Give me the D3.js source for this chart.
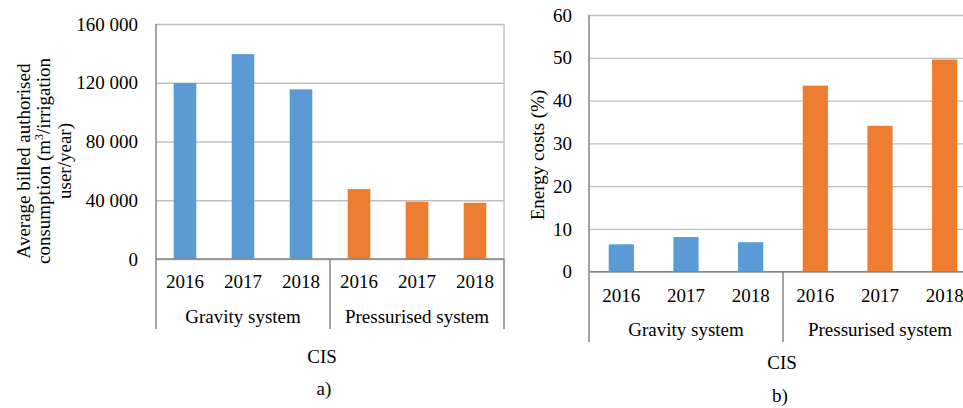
<!DOCTYPE html>
<html>
<head>
<meta charset="utf-8">
<script src="https://cdn.jsdelivr.net/npm/d3@7"></script>
</head>
<body style="margin:0;overflow:hidden;background:#fff">
<svg id="chart" width="963" height="408" style="display:block"></svg>
<script>
// ---------- data ----------
const years = ["2016", "2017", "2018", "2016", "2017", "2018"];
const groups = ["Gravity system", "Pressurised system"];
const groupOf = [0, 0, 0, 1, 1, 1];
const consumption = [119800, 139500, 115500, 47600, 39000, 38300];
const energy = [6.4, 8.1, 6.9, 43.5, 34.1, 49.6];
const consumptionTicks = [0, 40000, 80000, 120000, 160000];
const energyTicks = [0, 10, 20, 30, 40, 50, 60];
const groupColors = ["#5B9BD5", "#ED7D31"];

const FONT = '"Liberation Serif", monospace';
const svg = d3.select("#chart");
const GRID = "#BFBFBF", AXIS = "#868686";

function txt(sel) {
  return sel.attr("font-family", FONT).style("font-family", FONT)
    .attr("font-size", 19).attr("fill", "#000");
}

function drawPanel(cfg) {
  const g = svg.append("g");
  const idx = d3.range(years.length);
  const x = d3.scaleBand().domain(idx).range([cfg.x0, cfg.x1])
    .paddingInner(0.61).paddingOuter(0.305);
  const y = d3.scaleLinear().domain([0, cfg.max]).range([cfg.yBase, cfg.yTop]);

  // gridlines
  g.append("g")
    .attr("transform", `translate(${cfg.x0},0)`)
    .call(d3.axisLeft(y).tickValues(cfg.ticks).tickSize(-(cfg.x1 - cfg.x0)).tickFormat(""))
    .call(s => s.select(".domain").remove())
    .call(s => s.selectAll("line").attr("stroke", GRID).attr("stroke-width", 1.3));

  if (cfg.rightBorder) {
    g.append("line").attr("x1", cfg.x1).attr("x2", cfg.x1)
      .attr("y1", cfg.yTop).attr("y2", cfg.yBase)
      .attr("stroke", GRID).attr("stroke-width", 1.3);
  }

  // bars
  g.selectAll("rect.bar").data(cfg.values).join("rect")
    .attr("class", "bar")
    .attr("x", (d, i) => x(i))
    .attr("width", x.bandwidth())
    .attr("y", d => y(d))
    .attr("height", d => y(0) - y(d))
    .attr("fill", (d, i) => groupColors[groupOf[i]]);

  // tick labels
  const ax = g.append("g")
    .attr("transform", `translate(${cfg.x0},0)`)
    .call(d3.axisLeft(y).tickValues(cfg.ticks).tickSize(0).tickPadding(cfg.tickPad).tickFormat(cfg.fmt));
  ax.attr("font-family", FONT).attr("font-size", 19);
  ax.select(".domain").remove();
  txt(ax.selectAll("text"));

  // axes lines
  g.append("line").attr("x1", cfg.x0).attr("x2", cfg.x0)
    .attr("y1", cfg.yTop).attr("y2", cfg.sepBottom)
    .attr("stroke", AXIS).attr("stroke-width", 1.5);
  g.append("line").attr("x1", cfg.x0).attr("x2", cfg.x1)
    .attr("y1", cfg.yBase).attr("y2", cfg.yBase)
    .attr("stroke", AXIS).attr("stroke-width", 1.5);

  // group separators
  const step = x.step();
  const seps = [3, 6].map(k => cfg.x0 + k * step);
  g.selectAll("line.sep").data(seps).join("line")
    .attr("class", "sep")
    .attr("x1", d => d).attr("x2", d => d)
    .attr("y1", cfg.yBase).attr("y2", cfg.sepBottom)
    .attr("stroke", AXIS).attr("stroke-width", 1.5);

  // year labels
  txt(g.selectAll("text.year").data(years).join("text")
    .attr("class", "year")
    .attr("x", (d, i) => x(i) + x.bandwidth() / 2)
    .attr("y", cfg.yearY)
    .attr("text-anchor", "middle")
    .text(d => d));

  // group labels
  txt(g.selectAll("text.group").data(groups).join("text")
    .attr("class", "group")
    .attr("x", (d, i) => cfg.x0 + (i * 3 + 1.5) * step)
    .attr("y", cfg.groupY)
    .attr("text-anchor", "middle")
    .text(d => d));

  txt(g.append("text").attr("x", cfg.cisX).attr("y", cfg.cisY)
    .attr("text-anchor", "middle").text("CIS"));
  txt(g.append("text").attr("x", cfg.letterX).attr("y", cfg.letterY)
    .attr("text-anchor", "middle").text(cfg.letter));

  return { g, x, y };
}

// ---------- panel a ----------
drawPanel({
  x0: 156, x1: 504, yTop: 24, yBase: 259, max: 160000,
  ticks: consumptionTicks, values: consumption,
  fmt: v => d3.format(",")(v).replace(/,/g, " "),
  tickPad: 18, rightBorder: true, sepBottom: 329,
  yearY: 288, groupY: 323, cisX: 322, cisY: 363, letterX: 324, letterY: 395, letter: "a)"
});

const titleA = txt(svg.append("text"))
  .attr("transform", "translate(0,161) rotate(-90)")
  .attr("text-anchor", "middle");
titleA.append("tspan").attr("x", 0).attr("y", 29.5).text("Average billed authorised");
const l2 = titleA.append("tspan").attr("x", 0).attr("y", 50);
l2.append("tspan").text("consumption (m");
l2.append("tspan").attr("dy", -7).attr("font-size", 12).text("3");
l2.append("tspan").attr("dy", 7).text("/irrigation");
titleA.append("tspan").attr("x", 0).attr("y", 70.5).text("user/year)");

// ---------- panel b ----------
drawPanel({
  x0: 589, x1: 977, yTop: 15, yBase: 271.7, max: 60,
  ticks: energyTicks, values: energy,
  fmt: d => String(d),
  tickPad: 17, rightBorder: true, sepBottom: 342,
  yearY: 301.5, groupY: 336, cisX: 782, cisY: 369, letterX: 780, letterY: 402, letter: "b)"
});

txt(svg.append("text"))
  .attr("transform", "translate(544,155) rotate(-90)")
  .attr("text-anchor", "middle")
  .text("Energy costs (%)");
</script>
</body>
</html>
